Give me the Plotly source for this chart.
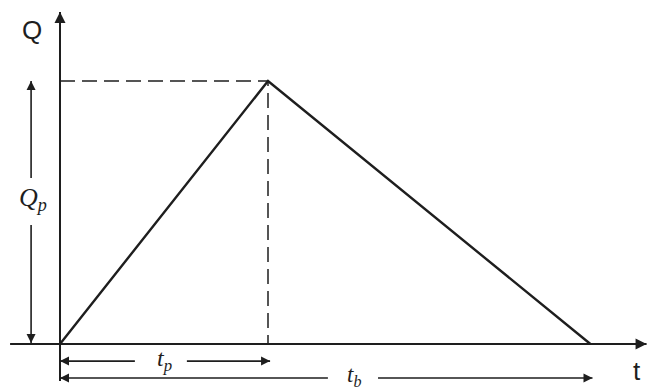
import plotly.graph_objects as go

# triangular hydrograph (t_p and Q_p taken as unit length)
t_p = 1.0
t_b = 2.55
Q_p = 1.0
hydro_t = [0, t_p, t_b]
hydro_q = [0, Q_p, 0]

# pixel mapping of the picture (origin at 60,344; 208 px per t_p, 263 px per Q_p)
W, H = 649, 388
X0, Y0, SX, SY = 60, 344, 208, 263
x_range = [-X0 / SX, (W - X0) / SX]
y_range = [-(H - Y0) / SY, Y0 / SY]

INK = "#1e1e1e"
SANS = "Liberation Sans, Arial, sans-serif"
SERIF = "Liberation Serif, Times New Roman, serif"

fig = go.Figure()


def line(xs, ys, width=2.0, dash="solid"):
    fig.add_trace(go.Scatter(x=xs, y=ys, mode="lines", hoverinfo="skip",
                             line=dict(color=INK, width=width, dash=dash)))


def arrow(x, y, ax, ay, symbol, width=1.6, size=9):
    # shaft from (ax, ay) to the tip at (x, y)
    line([ax, x], [ay, y], width=width)
    fig.add_trace(go.Scatter(x=[x], y=[y], mode="markers", hoverinfo="skip",
                             marker=dict(symbol=symbol, size=size, color=INK,
                                         line=dict(width=0))))


# dashed guides to the peak
line([0, t_p, t_p], [Q_p, Q_p, 0], width=1.5, dash="15px,7px")
# hydrograph
line(hydro_t, hydro_q, width=2.4)
# vertical axis continued down to the t_b arrow
line([0, 0], [-0.141, 0], width=2)

# axes
arrow(0, 1.262, 0, 0, "arrow-up", width=2, size=11)
arrow(2.82, 0, -0.24, 0, "arrow-right", width=2, size=11)

# Q_p dimension
qx = -0.139
arrow(qx, Q_p, qx, 0.631, "arrow-up")
arrow(qx, 0.004, qx, 0.452, "arrow-down")

# t_p dimension
ty = -0.065
arrow(0, ty, 0.36, ty, "arrow-left")
arrow(t_p + 0.01, ty, 0.61, ty, "arrow-right")

# t_b dimension
by = -0.129
arrow(0, by, 1.288, by, "arrow-left")
arrow(t_b + 0.01, by, 1.529, by, "arrow-right")

labels = [
    ("Q", -0.135, 1.194, SANS, 26),
    ("t", 2.774, -0.103, SANS, 26),
    ("<i>Q</i><sub><i>p</i></sub>", qx + 0.01, 0.55, SERIF, 26),
    ("<i>t</i><sub><i>p</i></sub>", t_p / 2, ty + 0.005, SERIF, 24),
    ("<i>t</i><sub><i>b</i></sub>", 1.415, by + 0.008, SERIF, 23),
]
for txt, x, y, fam, sz in labels:
    fig.add_annotation(x=x, y=y, xref="x", yref="y", text=txt, showarrow=False,
                       font=dict(family=fam, size=sz, color=INK),
                       xanchor="center", yanchor="middle")

fig.update_layout(
    width=W, height=H,
    margin=dict(l=0, r=0, t=0, b=0),
    paper_bgcolor="white", plot_bgcolor="white",
    showlegend=False,
    xaxis=dict(range=x_range, visible=False, fixedrange=True),
    yaxis=dict(range=y_range, visible=False, fixedrange=True),
)

fig.write_html("out.html", config={"displayModeBar": False},
               post_script="document.body.style.margin='0';"
                           "document.body.style.overflow='hidden';")
